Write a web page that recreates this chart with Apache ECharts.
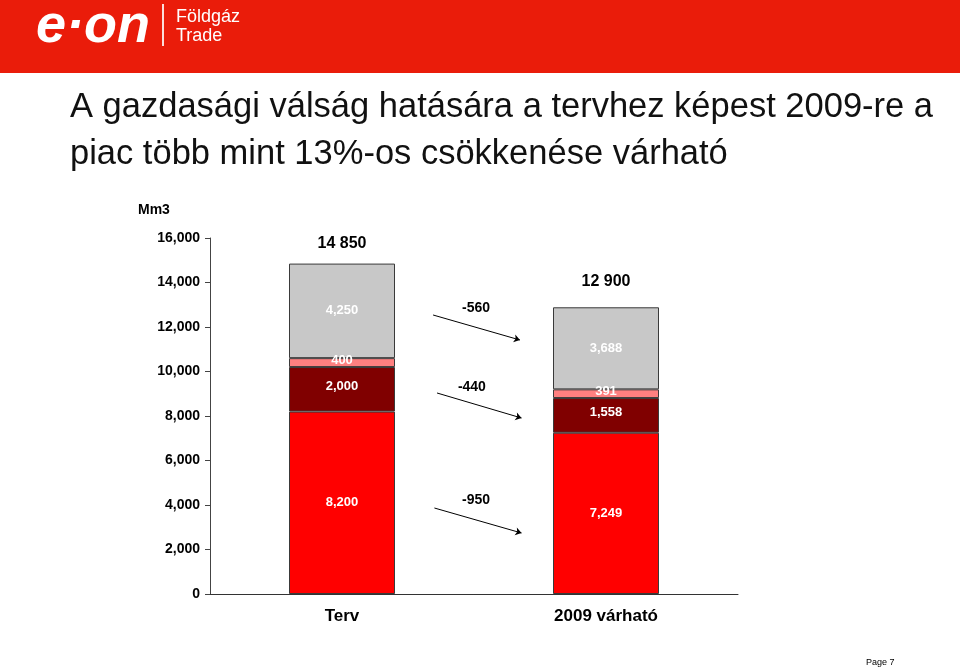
<!DOCTYPE html>
<html><head><meta charset="utf-8">
<script src="https://cdn.jsdelivr.net/npm/echarts@6/dist/echarts.min.js"></script>
<style>html,body{margin:0;padding:0;background:#fff}#c{width:960px;height:671px}</style>
</head><body><div id="c"></div>
<script>
const categories = ['Terv', '2009 várható'];
const baseValues = [8200, 7249];      // red
const darkValues = [2000, 1558];      // dark red
const pinkValues = [400, 391];        // light red
const grayValues = [4250, 3688];      // gray
const totals = [14850, 12886];
const totalLabels = ['14 850', '12 900'];
const yTicks = [0, 2000, 4000, 6000, 8000, 10000, 12000, 14000, 16000];
// change arrows on hidden value x-axis (0..2) and y data units
const changeLabels = ['-560', '-440', '-950'];
const arrowStart = [[0.845, 12540], [0.86, 9034], [0.85, 3865]];
const arrowEnd = [[1.174, 11416], [1.18, 7910], [1.18, 2742]];
const changeLabelPos = [[1.008, 12854], [0.992, 9303], [1.008, 4225]];

const FONT = 'Liberation Sans, Arial, sans-serif';
const chart = echarts.init(document.getElementById('c'), null, {renderer: 'canvas'});

const segLabel = () => ({
  show: true, position: 'inside', color: '#fff', fontFamily: FONT,
  fontWeight: 'bold', fontSize: 13,
  formatter: p => p.value.toLocaleString('en-US')
});
const barBase = {type: 'bar', stack: 'total', barWidth: 106};
const border = {borderColor: '#3a3a3a', borderWidth: 1};

chart.setOption({
  animation: false,
  backgroundColor: '#fff',
  title: {
    text: 'A gazdasági válság hatására a tervhez képest 2009-re a\npiac több mint 13%-os csökkenése várható',
    left: 65, top: 79,
    textStyle: {fontFamily: FONT, fontSize: 34.5, fontWeight: 'normal', color: '#111', lineHeight: 47}
  },
  graphic: [
    {type: 'rect', left: 0, top: 0, shape: {width: 960, height: 73}, style: {fill: '#EA1C0A'}, z: -1},
    {type: 'text', left: 36, top: 0, style: {text: 'e·on', fill: '#fff', font: 'italic 900 54px ' + FONT}},
    {type: 'rect', left: 162, top: 4, shape: {width: 2, height: 42}, style: {fill: '#fff', opacity: 0.85}},
    {type: 'text', left: 176, top: 8, style: {text: 'Földgáz', fill: '#fff', font: '18px ' + FONT}},
    {type: 'text', left: 176, top: 27, style: {text: 'Trade', fill: '#fff', font: '18px ' + FONT}},
    {type: 'text', left: 138, top: 203, style: {text: 'Mm3', fill: '#000', font: 'bold 14px ' + FONT}},
    {type: 'text', left: 866, top: 658, style: {text: 'Page 7', fill: '#000', font: '9px ' + FONT}}
  ],
  grid: {left: 210, right: 222, top: 238, bottom: 77, containLabel: false},
  xAxis: [
    {type: 'category', data: categories,
      axisLine: {lineStyle: {color: '#333', width: 1}}, axisTick: {show: false},
      axisLabel: {color: '#000', fontFamily: FONT, fontWeight: 'bold', fontSize: 17, margin: 14}},
    {type: 'value', min: 0, max: 2, show: false}
  ],
  yAxis: {
    type: 'value', min: 0, max: 16000, interval: 2000,
    splitLine: {show: false},
    axisLine: {show: true, lineStyle: {color: '#444'}},
    axisTick: {show: true, length: 5, lineStyle: {color: '#444'}},
    axisLabel: {color: '#000', fontFamily: FONT, fontWeight: 'bold', fontSize: 14, margin: 10,
      formatter: v => v.toLocaleString('en-US')}
  },
  series: [
    Object.assign({}, barBase, {name: 'base', data: baseValues, itemStyle: Object.assign({color: '#FF0000'}, border), label: segLabel()}),
    Object.assign({}, barBase, {name: 'dark', data: darkValues, itemStyle: Object.assign({color: '#800000'}, border), label: Object.assign(segLabel(), {offset: [0, -3]})}),
    Object.assign({}, barBase, {name: 'pink', data: pinkValues, itemStyle: Object.assign({color: '#FF8080'}, border), label: Object.assign(segLabel(), {offset: [0, -2]})}),
    Object.assign({}, barBase, {name: 'gray', data: grayValues, itemStyle: Object.assign({color: '#C8C8C8'}, border), label: segLabel()}),
    {type: 'scatter', name: 'totals', symbolSize: 0, silent: true, itemStyle: {opacity: 1},
      data: totals.map((t, i) => ({value: [categories[i], t], label: {distance: i === 0 ? 12 : 18}})),
      label: {show: true, position: 'top', color: '#000', fontFamily: FONT, fontWeight: 'bold', fontSize: 16,
        formatter: p => totalLabels[p.dataIndex]}},
    {type: 'scatter', name: 'changes', xAxisIndex: 1, symbolSize: 0, silent: true, itemStyle: {opacity: 1},
      data: changeLabelPos.map((p, i) => [p[0], p[1], changeLabels[i]]),
      label: {show: true, position: 'inside', color: '#000', fontFamily: FONT, fontWeight: 'bold', fontSize: 14,
        formatter: p => p.value[2]},
      markLine: {
        silent: true, symbol: ['none', 'arrow'], symbolSize: 6,
        lineStyle: {color: '#000', width: 1, type: 'solid'},
        label: {show: false},
        data: arrowStart.map((s, i) => [{coord: s}, {coord: arrowEnd[i]}])
      }}
  ]
});
</script></body></html>
